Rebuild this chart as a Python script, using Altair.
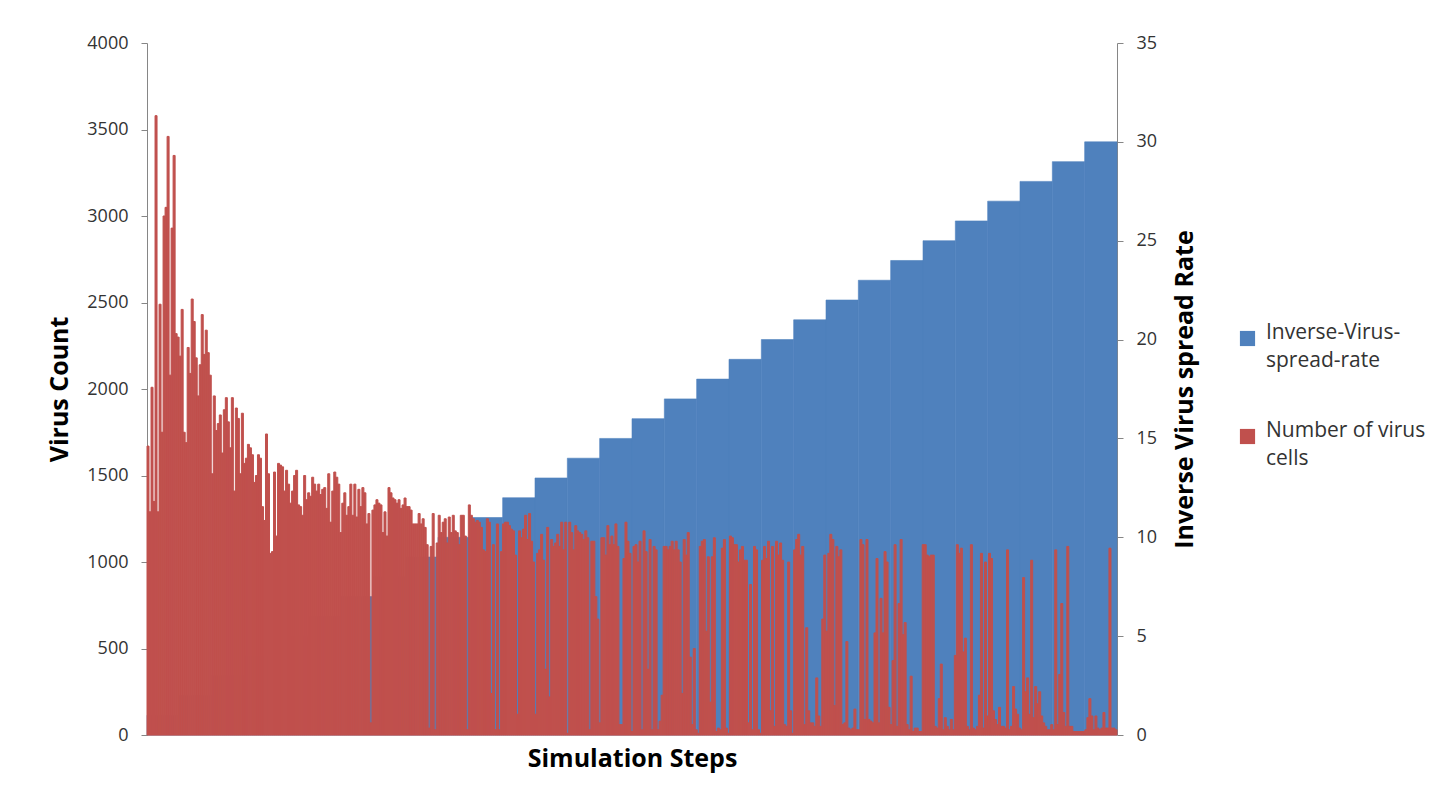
import altair as alt
import pandas as pd

# Number of virus cells per simulation step (left to right)
virus_seg1 = [1670, 1290, 2010, 1350, 3580, 1290, 2490, 1750, 3000, 3050,
              3460, 2080, 2930, 3350, 2320, 2300, 2190, 2460, 1750, 1690,
              2240, 2090, 2520, 2390, 2180, 1960, 2140, 2430, 2200, 2340,
              2210, 2080, 1510, 1960, 1760, 1800, 1850, 1630, 1880, 1950,
              1810, 1660, 1950, 1410, 1890, 1830, 1510, 1860, 1570, 1600,
              1680, 1660, 1620, 1460, 1500, 1620, 1600, 1320, 1240, 1740,
              1510, 1050, 1060, 1520, 1150, 1570, 1560, 1550, 1410, 1530,
              1450, 1340, 1410, 1500, 1530, 1330, 1320, 1270, 1500, 1360,
              1400, 1380]
virus_seg2 = [1490, 1450, 1410, 1450, 1390, 1420, 1430, 1310, 1510, 1230,
              1410, 1520, 1490, 1450, 1170, 1340, 1400, 1270, 1320, 1450,
              1270, 1450, 1260, 1420, 1320, 1430, 1400, 1220, 1280, 70,
              1300, 1330, 1360, 1340, 1330, 1170, 1290, 1150, 1430, 1400,
              1370, 1360, 1340, 1360, 1310, 1330, 1370, 1320, 1320, 1300,
              1220, 1220, 1220, 1280, 1220, 1250, 1200, 1100, 40, 1090,
              1280, 30, 1110, 1270, 1170, 1230, 1250, 1110, 1260, 1170,
              1270, 1180, 1170, 1100, 1270, 1270, 1150, 30, 1330, 1270]
virus_seg3 = [1250, 1230, 1240, 1230, 1200, 1070, 1060, 1250, 1230, 240,
              1100, 30, 1220, 30, 1060, 1220, 1230, 1230, 1210, 1190,
              1180, 1040, 120, 1180, 1140, 1190, 1270, 1130, 1280, 1120,
              1000, 120, 1050, 1070, 1160, 1010, 380, 1200, 220, 1130,
              1090, 1110, 1160, 1090, 1230, 1070, 1230, 10, 1230, 1170,
              1070, 1210, 1180, 1170, 1160, 1130, 1180, 1140, 30, 1120,
              1120, 800, 670, 70, 1140, 1140, 1040, 1210, 1100, 1150,
              1100, 1220, 1090, 60, 60]
virus_seg4 = [1020, 1230, 1120, 1050, 20, 1090, 1100, 1000, 1120, 30,
              1180, 1060, 380, 1130, 30, 1090, 1070, 30, 80, 230,
              1090, 1090, 1070, 1090, 1120, 1070, 1120, 1070, 1000, 240,
              1130, 1040, 1170, 450, 60, 500, 30, 10, 1090, 1120,
              1130, 600, 1030, 190, 1030, 1140, 20, 40, 30, 1080,
              1130, 40, 10, 1150, 1140, 1100, 1100, 1000, 1070, 1090,
              1010, 1010, 70, 870, 30, 1090, 1070, 30, 10, 1010,
              1090, 1020, 1120, 140, 1090, 50, 1120, 1040, 1110, 1010]
virus_seg5 = [60, 50, 1000, 140, 10, 1070, 1130, 1160, 1040, 1090,
              60, 620, 140, 70, 70, 50, 330, 110, 50, 670,
              1040, 600, 1050, 1160, 1130, 170, 1090, 1030, 1070, 60,
              70, 540, 40, 30, 40, 150, 30, 30, 1130, 1100,
              90, 1130, 90, 80, 70, 590, 1020, 70, 790, 590,
              1060, 1000, 160, 60, 430, 1100, 50, 760, 1130, 580,
              650, 60, 30, 340, 20, 40, 40, 20, 20, 1100,
              1100, 1040, 1030, 1040, 1040, 50, 40, 210, 410]
virus_seg6 = [30, 100, 50, 30, 90, 30, 460, 1100, 1050, 1080,
              480, 560, 50, 30, 1100, 40, 30, 50, 230, 1050,
              40, 1000, 110, 1050, 1020, 140, 90, 60, 160, 50,
              50, 40, 1070, 30, 50, 280, 150, 120, 40, 30,
              910, 250, 330, 120, 1010, 100, 280, 180, 250, 110,
              70, 50, 30, 30, 60, 30, 1070, 60, 350, 760,
              130, 50, 1090, 50, 50, 20, 20, 20, 20, 20,
              20, 30, 100, 210, 110, 30, 110, 40, 30, 40,
              130, 40, 40, 1080, 40, 40, 30]

# Inverse virus spread rate: one value per equal block of steps
inverse_rate = [1, 2, 3, 4, 5, 6, 7, 8, 9, 10,
                11, 12, 13, 14, 15, 16, 17, 18, 19, 20,
                21, 22, 23, 24, 25, 26, 27, 28, 29, 30]

left_ticks = [0, 500, 1000, 1500, 2000, 2500, 3000, 3500, 4000]
right_ticks = [0, 5, 10, 15, 20, 25, 30, 35]

RED_LABEL = "Number of virus cells"
BLUE_LABEL = "Inverse-Virus-spread-rate"
BLUE = "#4F81BD"
RED = "#C0504D"
FONT = "Open Sans"

virus_cells = virus_seg1 + virus_seg2 + virus_seg3 + virus_seg4 + virus_seg5 + virus_seg6
n = len(virus_cells)
k = len(inverse_rate)

red_df = pd.DataFrame({
    "step": list(range(n)),
    "step_end": [i + 1 for i in range(n)],
    "cells": virus_cells,
    "series": RED_LABEL,
})
blue_df = pd.DataFrame({
    "start": [j * n / k for j in range(k)],
    "end": [(j + 1) * n / k for j in range(k)],
    "rate": inverse_rate,
    "series": BLUE_LABEL,
})

x_scale = alt.Scale(domain=[0, n], nice=False, zero=False)
color_scale = alt.Scale(domain=[BLUE_LABEL, RED_LABEL], range=[BLUE, RED])

x_axis = alt.Axis(title="Simulation Steps", labels=False, ticks=False, grid=False,
                  orient="bottom",
                  domainColor="#D9B3B3", titleFont=FONT, titleFontSize=25,
                  titleFontWeight="bold", titleColor="#000000", titlePadding=11)

legend = alt.Legend(
    title=None,
    orient="none",
    legendX=1090,
    legendY=285,
    symbolType="square",
    symbolSize=230,
    symbolStrokeWidth=0,
    labelFont=FONT,
    labelFontSize=21,
    labelColor="#333333",
    labelLimit=400,
    labelOffset=8,
    rowPadding=48,
    labelBaseline="alphabetic",
    labelExpr="datum.label == 'Inverse-Virus-spread-rate' ? ['Inverse-Virus-', 'spread-rate'] : ['Number of virus', 'cells']",
)

blue = alt.Chart(blue_df).mark_bar(stroke=BLUE, strokeWidth=0.6).encode(
    x=alt.X("start:Q", scale=x_scale, axis=x_axis),
    x2="end:Q",
    y=alt.Y("rate:Q", scale=alt.Scale(domain=[0, 35], nice=False),
            axis=alt.Axis(orient="right", values=right_ticks, grid=False, format="d",
                          title="Inverse Virus spread Rate", titleAngle=270,
                          titleBaseline="top", titlePadding=16,
                          titleFont=FONT, titleFontSize=25, titleFontWeight="bold",
                          titleColor="#000000",
                          labelFont=FONT, labelFontSize=18, labelColor="#333333",
                          labelPadding=13, tickSize=6, tickColor="#868686",
                          domainColor="#868686")),
    y2=alt.datum(0),
    color=alt.Color("series:N", scale=color_scale, legend=legend),
)

red = alt.Chart(red_df).mark_bar(stroke=RED, strokeWidth=1.0).encode(
    x=alt.X("step:Q", scale=x_scale, axis=x_axis),
    x2="step_end:Q",
    y=alt.Y("cells:Q", scale=alt.Scale(domain=[0, 4000], nice=False),
            axis=alt.Axis(orient="left", values=left_ticks, grid=False, format="d",
                          title="Virus Count", titlePadding=14,
                          titleFont=FONT, titleFontSize=25, titleFontWeight="bold",
                          titleColor="#000000",
                          labelFont=FONT, labelFontSize=18, labelColor="#333333",
                          labelPadding=13, tickSize=6, tickColor="#868686",
                          domainColor="#868686")),
    y2=alt.datum(0),
    color=alt.Color("series:N", scale=color_scale, legend=legend),
)

chart = alt.layer(blue, red).resolve_scale(y="independent").properties(
    width=970,
    height=692,
    autosize=alt.AutoSizeParams(type="none"),
    padding={"left": 139, "top": 35, "right": 312, "bottom": 40},
).configure(
    style={"guide-label": {"lineHeight": 28}},
).configure_view(stroke=None)

chart.save("out.html", embed_options={"renderer": "svg", "actions": False})
